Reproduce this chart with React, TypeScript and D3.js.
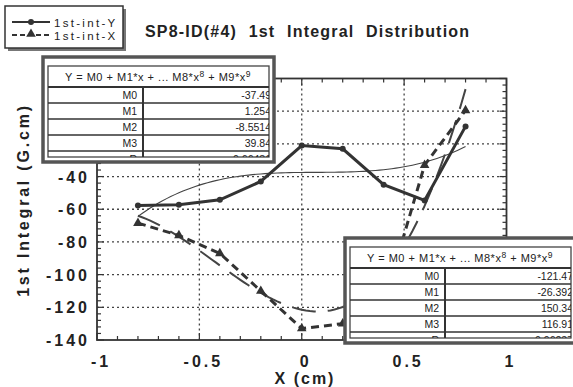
import React from 'react'
import * as d3 from 'd3'

// measured positions along the ID (cm)
const positions = [-0.8, -0.6, -0.4, -0.2, 0, 0.2, 0.4, 0.6, 0.8]
// 1st integral, vertical field (G.cm)
const firstIntY = [-57.7, -57.3, -54.2, -43, -21, -23, -45, -54.6, -9.3]
// 1st integral, horizontal field (G.cm)
const firstIntX = [-68.5, -76, -87, -110, -133, -130, -118, -33, 0.5]

// cubic fit coefficients shown in the two boxes
const fitYCoef = [-37.49, 1.254, -8.5514, 39.84]
const fitXCoef = [-121.47, -26.392, 150.34, 116.91]
const coefNames = ['M0', 'M1', 'M2', 'M3', 'R']
const fitYText = ['-37.49', '1.254', '-8.5514', '39.84', '0.66481']
const fitXText = ['-121.47', '-26.392', '150.34', '116.91', '0.96237']

const xTicks = [-1, -0.5, 0, 0.5, 1]
const yTicks = [-140, -120, -100, -80, -60, -40, -20, 0, 20]
// labels above -40 sit under the upper fit box
const yTickLabels = [-140, -120, -100, -80, -60, -40]

const W = 573
const H = 387
const ink = '#333'
const font = '"Liberation Sans", Arial, sans-serif'

const x = d3.scaleLinear().domain([-1, 1]).range([97, 506.5])
const y = d3.scaleLinear().domain([-140, 20]).range([340, 78.5])

const poly = (c: number[]) => (v: number) => c.reduce((s, m, i) => s + m * Math.pow(v, i), 0)

const FitTable = ({ tx, ty, values, id }: { tx: number; ty: number; values: string[]; id: string }) => {
    const w = 231
    const rows = coefNames.map((n, i) => ({ n, v: values[i], top: ty + 30 + i * 16 }))
    return (
        <g>
            <defs>
                <clipPath id={id}>
                    <rect x={tx + 5} y={ty + 9} width={w - 10} height={91} />
                </clipPath>
            </defs>
            <rect x={tx} y={ty} width={w} height={105} fill="white" stroke="#555" strokeWidth={3.5} />
            <rect x={tx + 5} y={ty + 9} width={w - 10} height={91} fill="white" stroke="#444" strokeWidth={1.3} />
            <g clipPath={`url(#${id})`} fontFamily={font} fill="#222">
                <text x={tx + 22} y={ty + 24} fontSize={11} letterSpacing={0.5}>
                    Y = M0 + M1*x + ... M8*x<tspan dy={-4} fontSize={8.5}>8</tspan>
                    <tspan dy={4}> + M9*x</tspan><tspan dy={-4} fontSize={8.5}>9</tspan>
                </text>
                {rows.map(r => (
                    <g key={r.n}>
                        <line x1={tx + 5} x2={tx + w - 5} y1={r.top} y2={r.top} stroke="#333" strokeWidth={r.n === 'M0' ? 2.2 : 1.5} />
                        <text x={tx + 94} y={r.top + 12} fontSize={10.5} textAnchor="end">{r.n}</text>
                        <text x={tx + 228} y={r.top + 12} fontSize={10.5} textAnchor="end">{r.v}</text>
                    </g>
                ))}
                <line x1={tx + 100} x2={tx + 100} y1={ty + 30} y2={ty + 100} stroke="#333" strokeWidth={2} />
            </g>
        </g>
    )
}

const App = () => {
    const ptsY = positions.map((p, i) => [x(p), y(firstIntY[i])] as [number, number])
    const ptsX = positions.map((p, i) => [x(p), y(firstIntX[i])] as [number, number])
    const line = d3.line()
    const fitGrid = d3.range(-0.8, 0.8001, 0.02)
    const fy = poly(fitYCoef)
    const fx = poly(fitXCoef)
    const fitYPath = line(fitGrid.map(v => [x(v), y(fy(v))] as [number, number]))
    const fitXPath = line(fitGrid.map(v => [x(v), y(fx(v))] as [number, number]))

    const xMinor = d3.range(-1, 1.0001, 0.1)
    const yMinor = d3.range(-140, 20.001, 4)
    const tri = d3.symbol().type(d3.symbolTriangle).size(40)()

    return (
        <svg width={W} height={H} style={{ position: 'absolute', left: 0, top: 0, background: 'white' }}>
            {/* grid */}
            <g stroke="#444" strokeWidth={1.3} strokeDasharray="2,3">
                {xTicks.slice(1, -1).map(t => <line key={t} x1={x(t)} x2={x(t)} y1={y(20)} y2={y(-140)} />)}
                {yTicks.slice(1, -1).map(t => <line key={t} x1={x(-1)} x2={x(1)} y1={y(t)} y2={y(t)} />)}
            </g>
            {/* ticks */}
            <g stroke={ink} strokeWidth={1.2}>
                {xMinor.map((t, i) => {
                    const len = i % 5 === 0 ? 7 : 4
                    return (
                        <g key={i}>
                            <line x1={x(t)} x2={x(t)} y1={y(-140)} y2={y(-140) - len} />
                            <line x1={x(t)} x2={x(t)} y1={y(20)} y2={y(20) + len} />
                        </g>
                    )
                })}
                {yMinor.map((t, i) => {
                    const len = i % 5 === 0 ? 7 : 4
                    return (
                        <g key={i}>
                            <line x1={x(-1)} x2={x(-1) + len} y1={y(t)} y2={y(t)} />
                            <line x1={x(1)} x2={x(1) - len} y1={y(t)} y2={y(t)} />
                        </g>
                    )
                })}
            </g>
            <rect x={x(-1)} y={y(20)} width={x(1) - x(-1)} height={y(-140) - y(20)} fill="none" stroke={ink} strokeWidth={1.8} />

            {/* tick labels */}
            <g fontFamily={font} fontWeight="bold" fontSize={16} fill="#222" letterSpacing={3}>
                {yTickLabels.map(t => (
                    <text key={t} x={90} y={y(t) + 6} textAnchor="end">{t}</text>
                ))}
                {xTicks.map(t => (
                    <text key={t} x={x(t) + 4} y={367} textAnchor="middle">{t}</text>
                ))}
            </g>
            <text x={305} y={384} textAnchor="middle" fontFamily={font} fontWeight="bold" fontSize={16} letterSpacing={2} fill="#222">X (cm)</text>
            <text transform="translate(29,200) rotate(-90)" textAnchor="middle" fontFamily={font} fontWeight="bold" fontSize={16} letterSpacing={2.8} fill="#222">1st Integral (G.cm)</text>

            {/* fits */}
            <path d={fitYPath ?? ''} fill="none" stroke="#444" strokeWidth={1.1} />
            <path d={fitXPath ?? ''} fill="none" stroke="#444" strokeWidth={2} strokeDasharray="24,12" />

            {/* series */}
            <path d={line(ptsY) ?? ''} fill="none" stroke={ink} strokeWidth={3} />
            <path d={line(ptsX) ?? ''} fill="none" stroke={ink} strokeWidth={3} strokeDasharray="8,5" />
            {ptsY.map((p, i) => <circle key={i} cx={p[0]} cy={p[1]} r={3} fill={ink} />)}
            {ptsX.map((p, i) => <path key={i} d={tri ?? ''} transform={`translate(${p[0]},${p[1]})`} fill={ink} />)}

            {/* fit boxes */}
            <FitTable tx={43} ty={57} values={fitYText} id="clipA" />
            <FitTable tx={345} ty={238} values={fitXText} id="clipB" />

            {/* legend */}
            <rect x={8} y={9} width={118} height={42} fill="#777" />
            <rect x={5} y={6} width={118} height={42} fill="white" stroke={ink} strokeWidth={1.5} />
            <line x1={12} x2={50} y1={22} y2={22} stroke={ink} strokeWidth={2} />
            <circle cx={31} cy={22} r={3} fill={ink} />
            <line x1={12} x2={50} y1={35} y2={35} stroke={ink} strokeWidth={2} strokeDasharray="5,3" />
            <path d={tri ?? ''} transform="translate(31,34)" fill={ink} />
            <g fontFamily={font} fontSize={11.5} fill="#222" letterSpacing={2.3}>
                <text x={54} y={26.5}>1st-int-Y</text>
                <text x={54} y={39.5}>1st-int-X</text>
            </g>

            <text x={145} y={37} fontFamily={font} fontWeight="bold" fontSize={16} letterSpacing={1.2} wordSpacing={6} fill="#222">
                SP8-ID(#4) 1st Integral Distribution
            </text>
        </svg>
    )
}

export default App
